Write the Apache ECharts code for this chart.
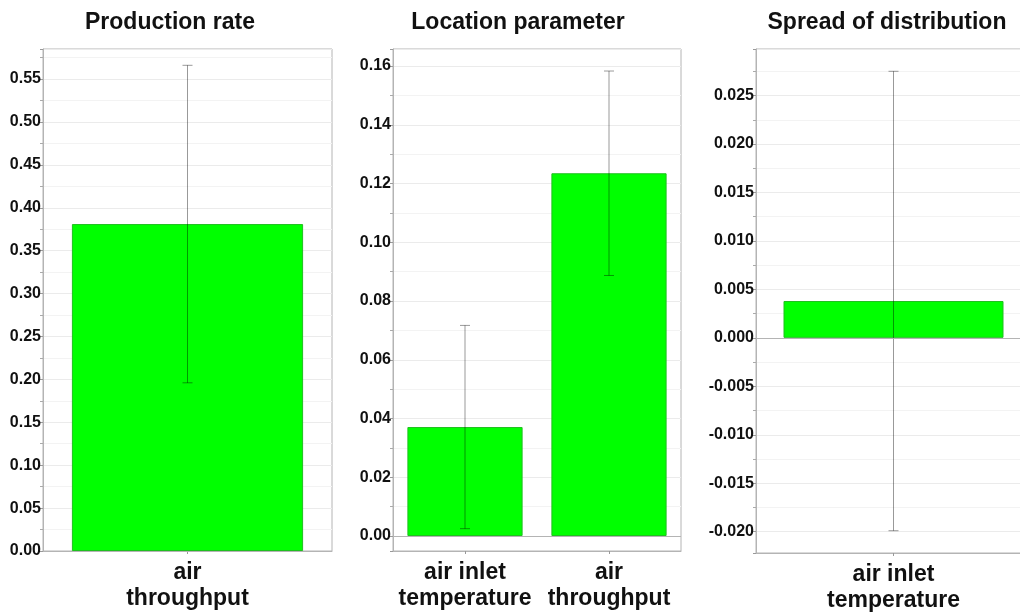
<!DOCTYPE html>
<html>
<head>
<meta charset="utf-8">
<script src="https://cdn.jsdelivr.net/npm/echarts@6/dist/echarts.min.js"></script>
<style>
  html, body { margin: 0; padding: 0; background: #fff; }
  #chart { width: 1020px; height: 615px; }
</style>
</head>
<body>
<div id="chart"></div>
<script>
// Panel titles
const panelTitles = ['Production rate', 'Location parameter', 'Spread of distribution'];

// Production rate
const productionCategories = ['air\nthroughput'];
const productionValues = [0.381];
const productionErrors = [0.185];

// Location parameter
const locationCategories = ['air inlet\ntemperature', 'air\nthroughput'];
const locationValues = [0.0371, 0.1235];
const locationErrors = [0.0346, 0.0348];

// Spread of distribution
const spreadCategories = ['air inlet\ntemperature'];
const spreadValues = [0.0038];
const spreadErrors = [0.0237];

const FONT = '"Liberation Sans", Arial, Helvetica, sans-serif';
const BAR_GREEN = '#00ff00';
const FRAME = '#b4b4b4';

const chart = echarts.init(document.getElementById('chart'), null, { renderer: 'canvas' });

function errorBarItem(params, api) {
  const x = api.value(0);
  const top = api.coord([x, api.value(2)]);
  const bot = api.coord([x, api.value(1)]);
  const half = 5;
  const style = { stroke: 'rgba(0,0,0,0.4)', lineWidth: 1 };
  return {
    type: 'group',
    children: [
      { type: 'line', shape: { x1: top[0], y1: top[1], x2: bot[0], y2: bot[1] }, style },
      { type: 'line', shape: { x1: top[0] - half, y1: top[1], x2: top[0] + half, y2: top[1] }, style },
      { type: 'line', shape: { x1: bot[0] - half, y1: bot[1], x2: bot[0] + half, y2: bot[1] }, style }
    ]
  };
}

function errorData(values, errors) {
  return values.map((v, i) => [i, v - errors[i], v + errors[i]]);
}

// The last panel runs a little past the right edge of the canvas.
const grids = [
  { left: 43, width: 289, top: 49, bottom: 64 },
  { left: 393, width: 288, top: 49, bottom: 64 },
  { left: 756, width: 275, top: 49, bottom: 62 }
];

const panels = [
  { cats: productionCategories, vals: productionValues, errs: productionErrors,
    y: { min: 0, max: 0.585, interval: 0.05 }, digits: 2 },
  { cats: locationCategories, vals: locationValues, errs: locationErrors,
    y: { min: -0.0051, max: 0.1658, splitNumber: 8 }, digits: 2 },
  { cats: spreadCategories, vals: spreadValues, errs: spreadErrors,
    y: { min: -0.0222, max: 0.0298, splitNumber: 10 }, digits: 3 }
];

const titleCenters = [170, 518, 887];

const option = {
  animation: false,
  backgroundColor: '#fff',
  title: panelTitles.map((t, i) => ({
    text: t,
    left: titleCenters[i],
    top: 11,
    padding: 0,
    textAlign: 'center',
    textStyle: { fontFamily: FONT, fontWeight: 'bold', fontSize: 23, color: '#111' }
  })),
  grid: grids.map(g => Object.assign({
    show: true, borderColor: FRAME, borderWidth: 1, backgroundColor: 'transparent',
    containLabel: false, outerBoundsMode: 'none'
  }, g)),
  xAxis: panels.map((p, i) => ({
    type: 'category',
    gridIndex: i,
    data: p.cats,
    axisLine: { onZero: false, lineStyle: { color: FRAME } },
    axisTick: { show: true, alignWithLabel: true, length: 3, lineStyle: { color: '#999' } },
    axisLabel: {
      fontFamily: FONT, fontWeight: 'bold', fontSize: 23, color: '#111',
      lineHeight: 26, margin: 9, interval: 0
    },
    splitLine: { show: false }
  })),
  yAxis: panels.map((p, i) => Object.assign({
    type: 'value',
    gridIndex: i,
    axisLine: { show: true, lineStyle: { color: FRAME } },
    axisTick: { show: true, length: 3, lineStyle: { color: '#999' } },
    minorTick: { show: true, splitNumber: 2, length: 3, lineStyle: { color: '#aaa' } },
    splitLine: { show: true, lineStyle: { color: '#ebebeb' } },
    minorSplitLine: { show: true, lineStyle: { color: '#f3f3f3' } },
    axisLabel: {
      fontFamily: FONT, fontWeight: 'bold', fontSize: 16, color: '#111', margin: 2,
      showMinLabel: i === 0, showMaxLabel: false,
      formatter: (v) => v.toFixed(p.digits)
    }
  }, p.y)),
  series: panels.flatMap((p, i) => [
    {
      type: 'bar',
      xAxisIndex: i,
      yAxisIndex: i,
      data: p.vals,
      barWidth: '80%',
      itemStyle: { color: BAR_GREEN, borderColor: '#1fc01f', borderWidth: 1 },
      markLine: {
        silent: true,
        symbol: 'none',
        label: { show: false },
        lineStyle: { color: FRAME, type: 'solid', width: 1 },
        data: [{ yAxis: 0 }]
      }
    },
    {
      type: 'custom',
      xAxisIndex: i,
      yAxisIndex: i,
      renderItem: errorBarItem,
      encode: { x: 0, y: [1, 2] },
      data: errorData(p.vals, p.errs),
      z: 3
    }
  ])
};

chart.setOption(option);
</script>
</body>
</html>
